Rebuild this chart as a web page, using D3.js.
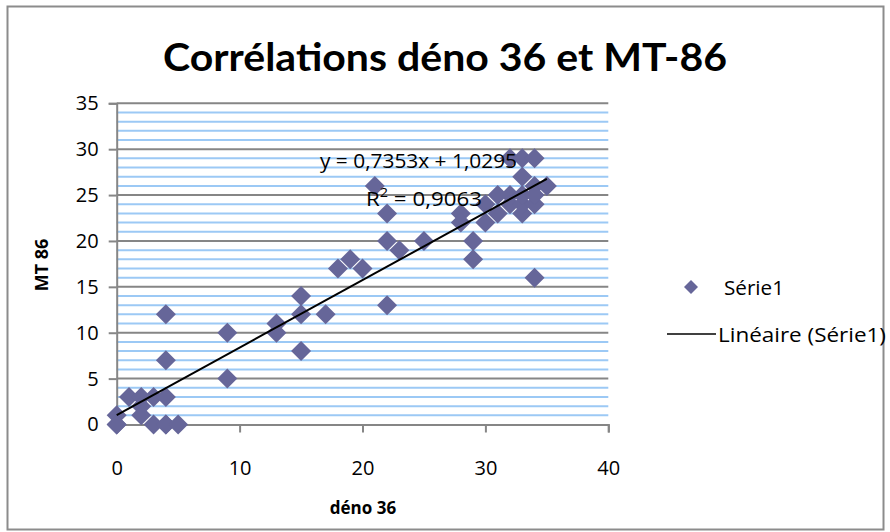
<!DOCTYPE html>
<html><head><meta charset="utf-8">
<script src="https://cdn.jsdelivr.net/npm/d3@7"></script>
<style>body{margin:0;background:#fff}svg{display:block}text{font-family:"Open Sans",Lato,sans-serif}</style>
</head><body><svg id="c" width="890" height="532"></svg>
<script>
const xVals = [0,0,0,1,2,2,2,3,3,4,4,4,4,4,5,9,9,13,13,15,15,15,17,18,19,20,21,22,22,22,23,25,28,28,29,29,30,30,31,31,32,32,33,33,33,34,34,34,35,33,32,33,34,34];
const yVals = [0,1,0,3,3,2,1,3,0,3,0,7,12,0,0,10,5,11,10,14,12,8,12,17,18,17,26,23,20,13,19,20,23,22,20,18,22,24,23,25,24,25,23,24,25,24,26,16,26,27,29,29,29,25];
const xTicks = [0,10,20,30,40];
const yTicks = [0,5,10,15,20,25,30,35];
const yMinor = d3.range(0,36,1);
const trend = {slope:0.7353, intercept:1.0295, r2:"0,9063", eq:"y = 0,7353x + 1,0295"};
const title = "Corrélations déno 36 et MT-86";
const xTitle = "déno 36", yTitle = "MT 86";
const legendLabels = ["Série1","Linéaire (Série1)"];

const svg = d3.select("#c");
svg.append("rect").attr("x",7.5).attr("y",6.5).attr("width",876).attr("height",523)
  .attr("fill","#fff").attr("stroke","#8c8c8c").attr("stroke-width",2);

const x = d3.scaleLinear().domain([0,40]).range([116.7,608.3]);
const y = d3.scaleLinear().domain([0,35]).range([424.5,103.3]);

svg.append("g").selectAll("line").data(yMinor.filter(v=>v%5!==0)).join("line")
  .attr("x1",x(0)).attr("x2",x(40)).attr("y1",d=>y(d)).attr("y2",d=>y(d))
  .attr("stroke","#9cc9f5").attr("stroke-width",2);
svg.append("g").selectAll("line").data(yTicks.filter(v=>v>0)).join("line")
  .attr("x1",x(0)).attr("x2",x(40)).attr("y1",d=>y(d)).attr("y2",d=>y(d))
  .attr("stroke","#868686").attr("stroke-width",2);

const yAxis = svg.append("g").attr("transform",`translate(${x(0)},0)`)
  .call(d3.axisLeft(y).tickValues(yTicks).tickSize(8).tickPadding(10).tickFormat(d3.format("d")));
const xAxis = svg.append("g").attr("transform",`translate(0,${y(0)})`)
  .call(d3.axisBottom(x).tickValues(xTicks).tickSize(8).tickPadding(28).tickFormat(d3.format("d")));
[yAxis,xAxis].forEach(a=>{
  a.select(".domain").attr("stroke","#868686").attr("stroke-width",2);
  a.selectAll(".tick line").attr("stroke","#868686").attr("stroke-width",2);
  a.selectAll("text").attr("font-size",20).attr("fill","#000").style("font-family","'Open Sans', sans-serif");
});

const sz = 10;
const dpath = `M0,${-sz}L${sz},0L0,${sz}L${-sz},0Z`;
svg.append("g").selectAll("path").data(xVals.map((v,i)=>[v,yVals[i]])).join("path")
  .attr("d",dpath).attr("transform",d=>`translate(${x(d[0])},${y(d[1])})`)
  .attr("fill","#666699");

svg.append("line").attr("x1",x(0)).attr("y1",y(trend.intercept))
  .attr("x2",x(35)).attr("y2",y(trend.slope*35+trend.intercept))
  .attr("stroke","#000").attr("stroke-width",2);

svg.append("text").attr("x",320).attr("y",168).attr("font-size",20)
  .attr("textLength",197).attr("lengthAdjust","spacingAndGlyphs").text(trend.eq);
const r = svg.append("text").attr("x",366).attr("y",206).attr("font-size",20)
  .attr("textLength",116).attr("lengthAdjust","spacingAndGlyphs");
r.append("tspan").text("R");
r.append("tspan").attr("dy",-9).attr("font-size",13).text("2");
r.append("tspan").attr("dy",9).text(" = "+trend.r2);

svg.append("text").attr("x",445).attr("y",71).attr("text-anchor","middle")
  .attr("font-size",39).attr("font-weight","bold").style("font-family","Lato, sans-serif")
  .attr("textLength",564).attr("lengthAdjust","spacingAndGlyphs").text(title);
svg.append("text").attr("x",363).attr("y",514).attr("text-anchor","middle")
  .attr("font-size",17).attr("font-weight","bold").text(xTitle);
svg.append("text").attr("transform","translate(48,265) rotate(-90)").attr("text-anchor","middle")
  .attr("font-size",18).attr("font-weight","bold").text(yTitle);

svg.append("path").attr("d",`M0,-7L7,0L0,7L-7,0Z`).attr("transform","translate(691,287)").attr("fill","#666699");
svg.append("text").attr("x",724).attr("y",295).attr("font-size",20)
  .attr("textLength",60).attr("lengthAdjust","spacingAndGlyphs").text(legendLabels[0]);
svg.append("line").attr("x1",667).attr("x2",716).attr("y1",334).attr("y2",334).attr("stroke","#000").attr("stroke-width",1.5);
svg.append("text").attr("x",718).attr("y",342).attr("font-size",20)
  .attr("textLength",168).attr("lengthAdjust","spacingAndGlyphs").text(legendLabels[1]);
</script></body></html>
